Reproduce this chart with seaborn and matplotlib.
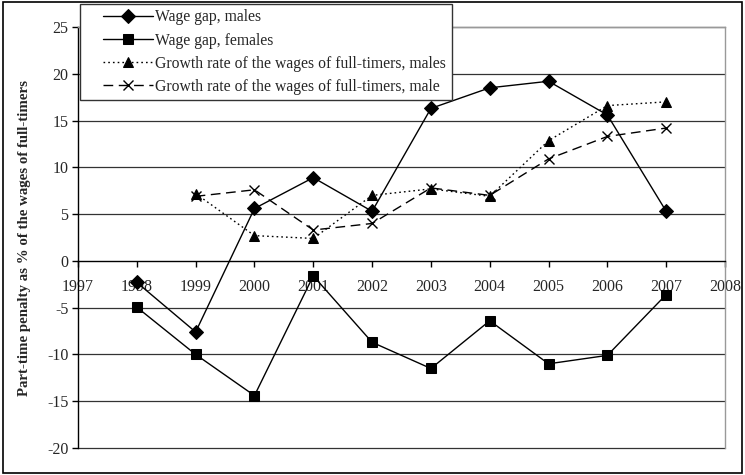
import matplotlib
matplotlib.use("Agg")
import matplotlib.pyplot as plt
from matplotlib.legend_handler import HandlerLine2D
import seaborn as sns
import pandas as pd

years = [1998, 1999, 2000, 2001, 2002, 2003, 2004, 2005, 2006, 2007]
gap_males = [-2.3, -7.6, 5.6, 8.9, 5.3, 16.3, 18.5, 19.2, 15.6, 5.3]
gap_females = [-4.95, -10.0, -14.4, -1.6, -8.7, -11.5, -6.4, -11.0, -10.1, -3.6]
growth_years = [1999, 2000, 2001, 2002, 2003, 2004, 2005, 2006, 2007]
growth_males = [7.2, 2.7, 2.4, 7.0, 7.7, 6.9, 12.85, 16.6, 17.0]
growth_male = [6.9, 7.6, 3.3, 4.0, 7.8, 7.0, 10.9, 13.3, 14.2]

labels = ["Wage gap, males", "Wage gap, females",
          "Growth rate of the wages of full-timers, males",
          "Growth rate of the wages of full-timers, male"]


class PaddedLine(HandlerLine2D):
    # excel-style legend: empty gap left of the handle
    def create_artists(self, legend, orig_handle, xdescent, ydescent, width, height, fontsize, trans):
        pad = width * 0.26
        return super().create_artists(legend, orig_handle, xdescent - pad, ydescent,
                                      width - pad, height, fontsize, trans)


sns.set_style("white")
plt.rcParams['font.family'] = ['Liberation Serif', 'DejaVu Serif']
plt.rcParams['axes.unicode_minus'] = False

fig = plt.figure(figsize=(7.45, 4.75), dpi=100)
ax = fig.add_axes([78 / 745, 1 - 448 / 475, 647 / 745, 421 / 475])

series = [
    (years, gap_males, dict(marker="D", markersize=7.5, linestyle="-")),
    (years, gap_females, dict(marker="s", markersize=7.5, linestyle="-")),
    (growth_years, growth_males, dict(marker="^", markersize=6.5, linestyle=(0, (1.2, 2.2)))),
    (growth_years, growth_male, dict(marker="x", markersize=7.5, mew=1.0, linestyle=(0, (7, 4)))),
]
for (xs, ys, kw), lab in zip(series, labels):
    df = pd.DataFrame({"year": xs, "value": ys})
    sns.lineplot(data=df, x="year", y="value", ax=ax, color="black", lw=1.0,
                 markeredgecolor="black", label=lab, **kw)

ax.set_xlim(1997, 2008)
ax.set_ylim(-20, 25)
ax.set_xticks(range(1997, 2009))
ax.set_yticks(range(-20, 30, 5))
for yv in range(-20, 30, 5):
    if yv != 0:
        ax.axhline(yv, color="#333333", lw=0.9, zorder=0, clip_on=False)

ax.spines["bottom"].set_position(("data", 0))
ax.spines["bottom"].set_color("black")
ax.spines["left"].set_color("black")
ax.spines["top"].set_color("#999999")
ax.spines["right"].set_color("#999999")
for s in ax.spines.values():
    s.set_linewidth(1.0)

ax.tick_params(axis="x", direction="out", length=4, width=1, pad=9, labelsize=11.5, color="black", bottom=True)
ax.tick_params(axis="y", direction="out", length=4, width=1, pad=3, labelsize=11.5, color="black", left=True)

ax.set_xlabel("")
ax.set_ylabel("Part-time penalty as % of the wages of full-timers", fontsize=10.7, fontweight="bold")
ax.yaxis.set_label_coords(-0.072, 0.5)

handles, _ = ax.get_legend_handles_labels()
leg = ax.legend(handles, labels, loc="upper left", bbox_to_anchor=(80 / 745, 1 - 4 / 475),
                bbox_transform=fig.transFigure, borderaxespad=0, fancybox=False,
                edgecolor="#333333", framealpha=1, fontsize=11.3, handlelength=4.3,
                labelspacing=0.45, borderpad=0.35, handletextpad=0.15,
                handler_map={h: PaddedLine() for h in handles})
leg.get_frame().set_linewidth(1.0)

fig.patches.append(plt.Rectangle((0.004, 0.004), 0.992, 0.992, transform=fig.transFigure,
                                 fill=False, edgecolor="black", lw=1.2))

fig.savefig("out.png", dpi=100)
